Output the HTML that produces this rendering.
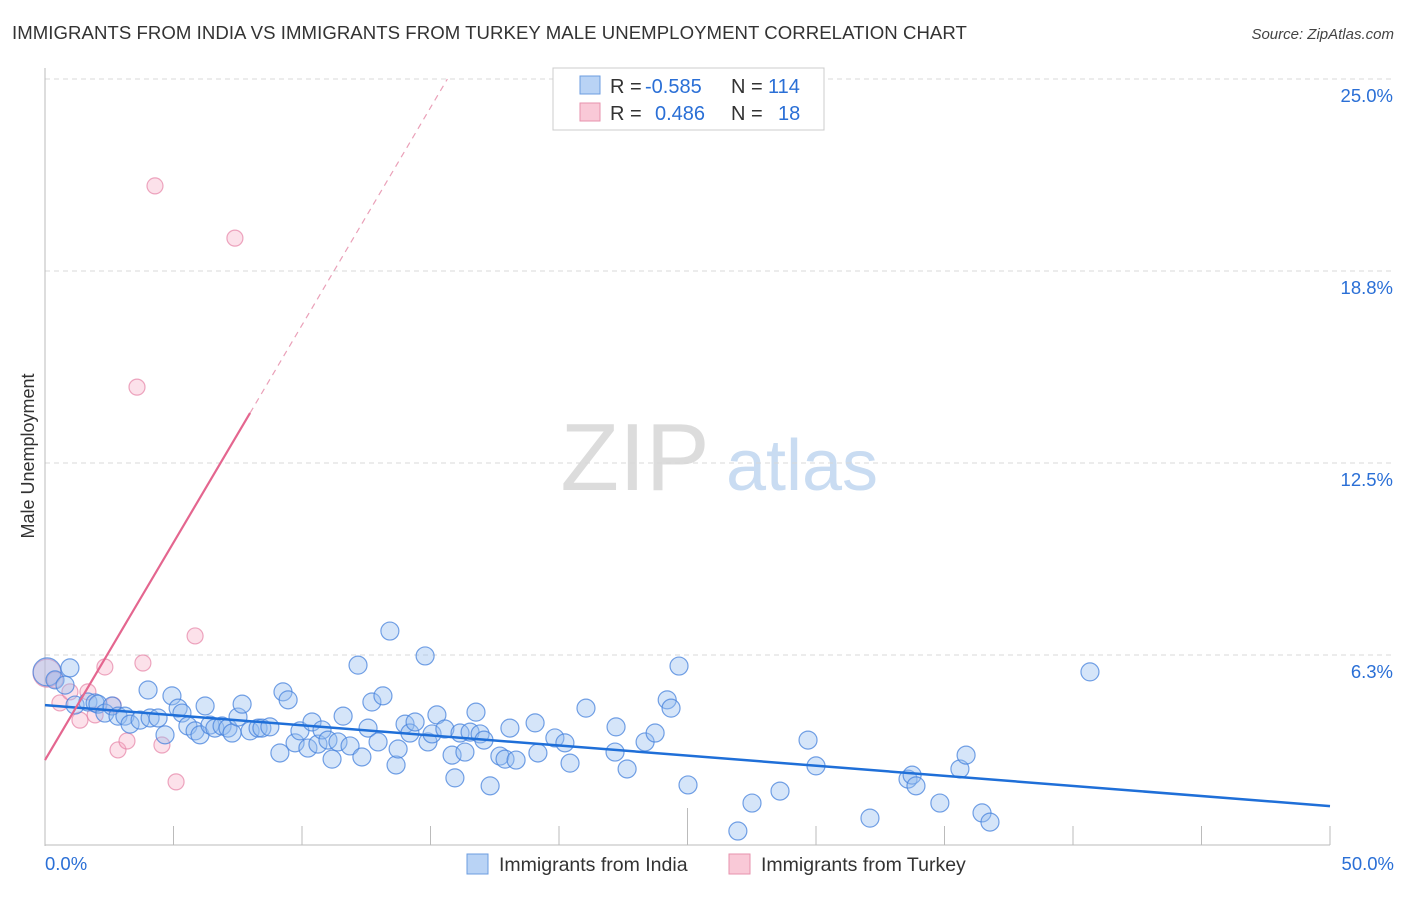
<!DOCTYPE html>
<html><head><meta charset="utf-8">
<style>
body{margin:0;background:#fff;font-family:"Liberation Sans",sans-serif;}
svg text{font-family:"Liberation Sans",sans-serif;}
</style></head>
<body>
<svg id="chart" width="1406" height="892" xmlns="http://www.w3.org/2000/svg">
<text x="12" y="39" font-size="18.6" fill="#333" letter-spacing="0.05">IMMIGRANTS FROM INDIA VS IMMIGRANTS FROM TURKEY MALE UNEMPLOYMENT CORRELATION CHART</text>
<text x="1394" y="39" font-size="15" fill="#444" font-style="italic" text-anchor="end">Source: ZipAtlas.com</text>
<text x="34" y="456" font-size="18" fill="#333" text-anchor="middle" transform="rotate(-90 34 456)">Male Unemployment</text>
<g>
<text x="635" y="490" font-size="96" fill="#dcdcdc" font-family="Liberation Serif" text-anchor="middle">ZIP</text>
<text x="802" y="490" font-size="72" fill="#c9dcf2" text-anchor="middle">atlas</text>
</g>
<g id="grid"></g><g id="axes"></g><g id="marks"></g>
<g>
<rect x="553" y="68" width="271" height="62" fill="#fff" stroke="#ccc"/>
<rect x="580" y="76" width="20" height="18" fill="#b9d3f5" stroke="#6c9ee0"/>
<rect x="580" y="103" width="20" height="18" fill="#f9c9d7" stroke="#e792ad"/>
<text x="610" y="93" font-size="20" fill="#333">R = <tspan fill="#2a6fd6" x="645">-0.585</tspan></text>
<text x="731" y="93" font-size="20" fill="#333">N = <tspan fill="#2a6fd6" x="768">114</tspan></text>
<text x="610" y="120" font-size="20" fill="#333">R = <tspan fill="#2a6fd6" x="655">0.486</tspan></text>
<text x="731" y="120" font-size="20" fill="#333">N = <tspan fill="#2a6fd6" x="778">18</tspan></text>
</g>
<g>
<rect x="467" y="854" width="21" height="20" fill="#b9d3f5" stroke="#6c9ee0"/>
<text x="499" y="871" font-size="19.5" fill="#333">Immigrants from India</text>
<rect x="729" y="854" width="21" height="20" fill="#f9c9d7" stroke="#e792ad"/>
<text x="761" y="871" font-size="19.5" fill="#333">Immigrants from Turkey</text>
</g>
</svg>
<script>
const xTickLabels=["0.0%","50.0%"];
const yTicks=[6.25,12.5,18.75,25];
const yTickLabels=["6.3%","12.5%","18.8%","25.0%"];
const indiaX=[0.08,0.39,0.97,0.78,1.17,1.67,1.95,2.06,2.33,2.61,2.84,3.11,3.31,3.70,4.01,4.09,4.40,4.67,4.94,5.18,5.33,5.56,5.84,6.03,6.23,6.42,6.61,6.89,7.12,7.28,7.51,7.67,7.98,8.29,8.44,8.75,9.14,9.26,9.46,9.73,9.92,10.23,10.39,10.62,10.78,11.01,11.17,11.40,11.60,11.87,12.18,12.33,12.57,12.72,12.96,13.15,13.42,13.66,13.74,14.01,14.20,14.40,14.79,14.90,15.06,15.25,15.56,15.84,15.95,16.15,16.34,16.54,16.77,16.93,17.08,17.32,17.70,17.90,18.09,18.33,19.07,19.18,19.84,20.23,20.43,21.05,22.18,22.22,22.65,23.35,23.74,24.21,24.36,24.67,25.02,26.96,27.51,28.60,29.69,30.00,32.10,33.58,33.74,33.89,34.82,35.60,35.84,36.46,36.77,40.66];
const indiaY=[5.70,5.44,5.83,5.27,4.62,4.72,4.69,4.65,4.36,4.59,4.26,4.26,4.00,4.13,5.11,4.20,4.20,3.65,4.92,4.52,4.36,3.94,3.78,3.65,4.59,3.97,3.87,3.94,3.87,3.71,4.23,4.65,3.78,3.87,3.87,3.91,3.06,5.05,4.79,3.39,3.78,3.22,4.07,3.35,3.81,3.48,2.86,3.42,4.26,3.29,5.92,2.93,3.87,4.72,3.42,4.92,7.03,2.67,3.19,4.00,3.71,4.07,6.22,3.42,3.68,4.30,3.84,2.99,2.25,3.71,3.09,3.74,4.39,3.68,3.48,1.99,2.96,2.86,3.87,2.83,4.04,3.06,3.55,3.39,2.73,4.52,3.09,3.91,2.54,3.42,3.71,4.79,4.52,5.89,2.02,0.52,1.43,1.82,3.48,2.64,0.94,2.21,2.34,1.99,1.43,2.54,2.99,1.11,0.81,5.70];
const turkeyX=[0.08,0.39,0.58,0.97,1.36,1.67,1.95,2.33,2.65,2.84,3.19,3.58,3.81,4.28,4.55,5.10,5.84,7.39];
const turkeyY=[5.66,5.44,4.69,5.05,4.13,5.05,4.30,5.86,4.62,3.16,3.45,14.97,5.99,21.52,3.32,2.12,6.87,19.82];
const indiaTrend=[4.62,-0.0658];
const turkeyTrend=[2.83,1.416];

const X0=45,X1=1330,YB=847,PPU=30.72;
const sx=v=>X0+(v/50)*(X1-X0);
const sy=v=>YB-v*PPU;
const NS="http://www.w3.org/2000/svg";
function mk(tag,attrs,parent){const e=document.createElementNS(NS,tag);for(const k in attrs)e.setAttribute(k,attrs[k]);parent.appendChild(e);return e;}
const grid=document.getElementById('grid'),axes=document.getElementById('axes'),marks=document.getElementById('marks');
yTicks.forEach((t,i)=>{
  const l=mk('line',{x1:X0,x2:1394,y1:sy(t),y2:sy(t),stroke:'#d8d8d8','stroke-dasharray':'5,4'},grid);
  
  
  const tx=mk('text',{x:1393,y:sy(t)+23,'font-size':18.5,fill:'#2a6fd6','text-anchor':'end'},axes);
  tx.textContent=yTickLabels[i];
  
  
});
const yl=mk('line',{x1:X0,x2:X0,y1:68,y2:846,stroke:'#bbb'},axes);


const xl=mk('line',{x1:X0,x2:X1,y1:845,y2:845,stroke:'#bbb'},axes);


for(let i=0;i<=10;i++){
  const t=mk('line',{x1:sx(i*5),x2:sx(i*5),y1:i==5?808:826,y2:845,stroke:'#bbb'},axes);
  
  
}
[[0,'start',45],[50,'end',1394]].forEach((a,i)=>{
  const t=mk('text',{x:a[2],y:870,'font-size':18.5,fill:'#2a6fd6','text-anchor':a[1]},axes);
  t.textContent=xTickLabels[i];
  
  
});
turkeyX.forEach((x,i)=>{
  const c=mk('circle',{cx:sx(x),cy:sy(turkeyY[i]),r:i==0?14:8,fill:'rgba(246,170,194,0.35)',stroke:'rgba(230,130,165,0.7)','stroke-width':1.2},marks);
  
  
});
indiaX.forEach((x,i)=>{
  const c=mk('circle',{cx:sx(x),cy:sy(indiaY[i]),r:i==0?14:9,fill:'rgba(150,190,240,0.4)',stroke:'rgba(70,130,220,0.75)','stroke-width':1.2},marks);
  
  
});
const il=mk('line',{x1:sx(0),y1:sy(indiaTrend[0]),x2:sx(50),y2:sy(indiaTrend[0]+indiaTrend[1]*50),stroke:'#1f6fd8','stroke-width':2.5},marks);


const xs=7.98, xe=(25-turkeyTrend[0])/turkeyTrend[1];
const tl=mk('line',{x1:sx(0),y1:sy(turkeyTrend[0]),x2:sx(xs),y2:sy(turkeyTrend[0]+turkeyTrend[1]*xs),stroke:'#e4668f','stroke-width':2.2},marks);


const td=mk('line',{x1:sx(xs),y1:sy(turkeyTrend[0]+turkeyTrend[1]*xs),x2:sx(xe),y2:sy(25),stroke:'#eaa0b8','stroke-width':1.2,'stroke-dasharray':'6,5'},marks);


</script>
</body></html>
